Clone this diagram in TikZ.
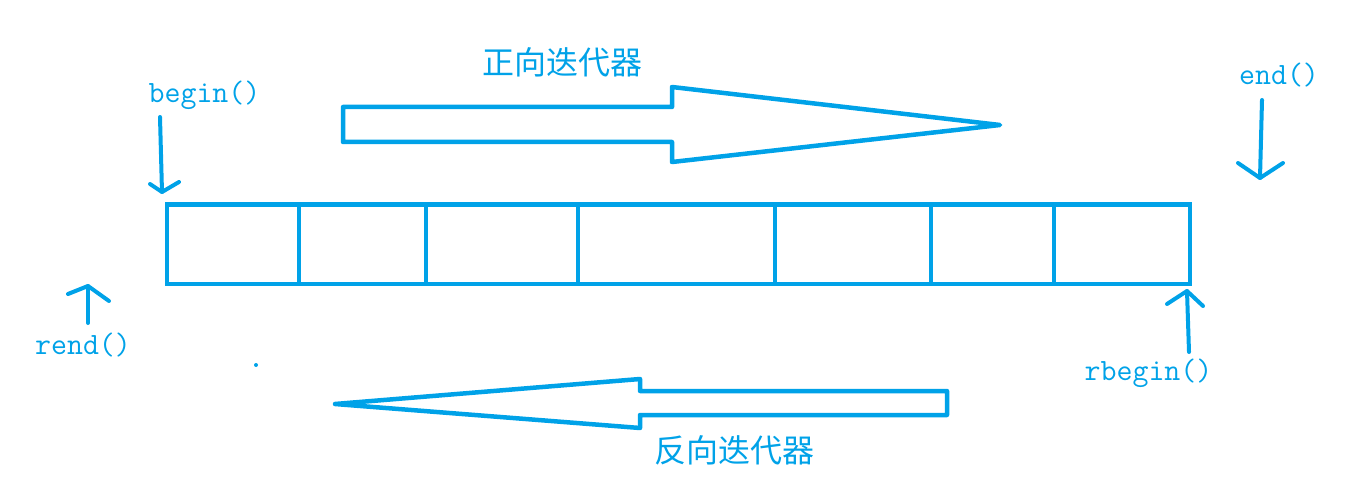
\documentclass[tikz,border=0pt]{standalone}
\usepackage{fontspec}
\newfontfamily\cjk{Noto Sans CJK SC}
\definecolor{pblue}{RGB}{0,162,232}
\begin{document}
\begin{tikzpicture}[x=1pt,y=-1pt,
  box/.style={draw=pblue,line width=4.5pt,line join=miter},
  bigarrow/.style={draw=pblue,line width=4.5pt,line join=round},
  ptr/.style={draw=pblue,line width=4pt,line cap=round,line join=round},
  lbl/.style={text=pblue,font=\fontsize{31}{34}\selectfont\ttfamily,inner sep=0pt},
  cjklbl/.style={text=pblue,font=\fontsize{32}{36}\selectfont\cjk,inner sep=0pt}]
\useasboundingbox (0,0) rectangle (1367,494);
% array cells
\draw[box] (167,204.5) rectangle (1190,284);
\foreach \x in {299,426,578,775,931,1054}
  \draw[box] (\x,204.5) -- (\x,284);
% forward big arrow
\draw[bigarrow] (343,107) -- (672,107) -- (672,87) -- (1000,125) -- (672,162) -- (672,142) -- (343,142) -- cycle;
% reverse big arrow
\draw[bigarrow] (947,391) -- (640,391) -- (640,379) -- (335,404) -- (640,428) -- (640,415) -- (947,415) -- cycle;
% labels
\node[cjklbl] (fwd) at (562,62) {正向迭代器};
\node[cjklbl] (rev) at (734,450) {反向迭代器};
\node[lbl] (begin) at (204.5,95) {begin()};
\node[lbl] (end) at (1279,75) {end()};
\node[lbl] (rend) at (83,345) {rend()};
\node[lbl] (rbegin) at (1148.5,373) {rbegin()};
% pointer arrows
\coordinate (b1) at (160,117); \coordinate (b2) at (162,192);
\draw[ptr] (b1) -- (b2);
\draw[ptr] (150,184) -- (b2) -- (179,182);
\coordinate (e1) at (1262,100); \coordinate (e2) at (1260,178);
\draw[ptr] (e1) -- (e2);
\draw[ptr] (1238,163) -- (e2) -- (1283,163);
\coordinate (r1) at (88,323); \coordinate (r2) at (88,286);
\draw[ptr] (r1) -- (r2);
\draw[ptr] (68,294) -- (r2) -- (109,301);
\coordinate (rb1) at (1189,352); \coordinate (rb2) at (1187,291);
\draw[ptr] (rb1) -- (rb2);
\draw[ptr] (1167,304) -- (rb2) -- (1203,306);
% stray dot
\fill[pblue] (256,365) circle (2);
\end{tikzpicture}
\end{document}
